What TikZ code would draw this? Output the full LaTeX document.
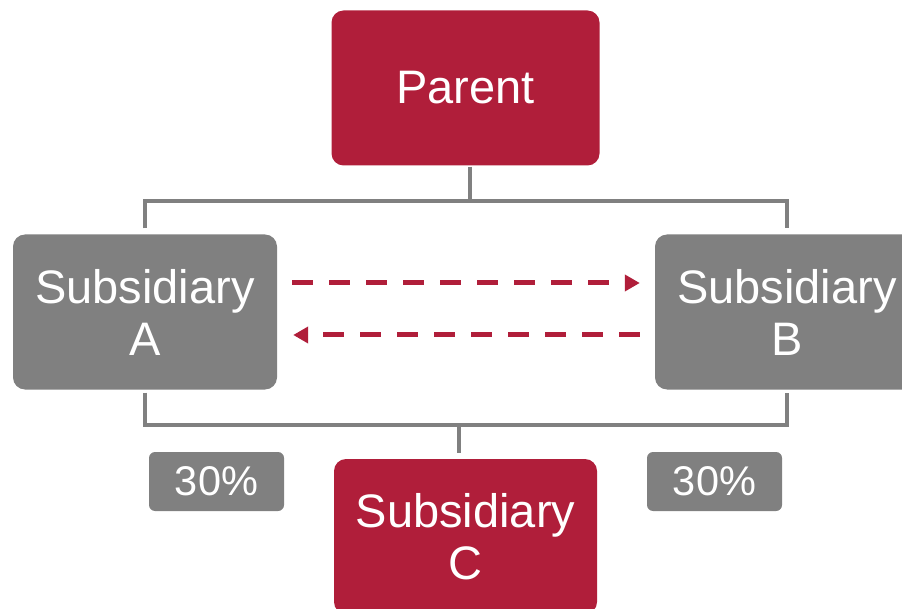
\documentclass[tikz,border=0pt]{standalone}
\usepackage{fontspec}
\setmainfont{Liberation Sans}
\usetikzlibrary{arrows.meta}
\definecolor{brandred}{HTML}{B01E3A}
\definecolor{boxgray}{HTML}{808080}
\begin{document}
\begin{tikzpicture}[x=1pt,y=-1pt,
  redbox/.style={rectangle,rounded corners=12pt,fill=brandred,text=white,align=center,
    minimum width=268pt,minimum height=155pt,inner sep=0pt,font=\fontsize{47}{52}\selectfont},
  graybox/.style={rectangle,rounded corners=12pt,fill=boxgray,text=white,align=center,
    minimum width=264pt,minimum height=155pt,inner sep=0pt,font=\fontsize{47}{52}\selectfont},
  pctbox/.style={rectangle,rounded corners=6pt,fill=boxgray,text=white,align=center,
    minimum width=135pt,minimum height=59pt,inner sep=0pt,font=\fontsize{41.5}{46}\selectfont},
  tree/.style={draw=boxgray,line width=4.5pt},
  flow/.style={draw=brandred,line width=5pt,dash pattern=on 21pt off 16pt,
    -{Triangle[length=15pt,width=16pt]}}
]
\useasboundingbox (0,0) rectangle (902,609);
\clip (0,0) rectangle (902,609);
\node[redbox] (P) at (465.5,88) {Parent};
\node[graybox] (A) at (145,312) {Subsidiary\\A};
\node[graybox] (B) at (787,312) {Subsidiary\\B};
\node[redbox,minimum width=263pt] (C) at (465.5,536.5) {Subsidiary\\C};
\node[pctbox] (pa) at (216.5,481.5) {30\%};
\node[pctbox] (pb) at (714.5,481.5) {30\%};
\coordinate (top) at (470,201);
\coordinate (bot) at (459,425);
\draw[tree] ([xshift=4.5pt,yshift=-1pt]P.south) -- (top);
\draw[tree] ([yshift=6pt]A.north) |- (top) -| ([yshift=6pt]B.north);
\draw[tree] ([yshift=-3pt]A.south) |- (bot) -| ([yshift=-3pt]B.south);
\draw[tree] (bot) -- ([xshift=-6.5pt,yshift=6pt]C.north);
\draw[flow] ([shift={(15,-29)}]A.east) -- ([shift={(-15,-29)}]B.west);
\draw[flow] ([shift={(-15,23)}]B.west) -- ([shift={(16,23)}]A.east);
\end{tikzpicture}
\end{document}
